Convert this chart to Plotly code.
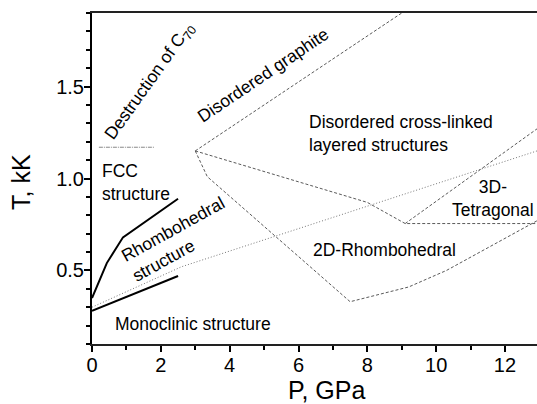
import plotly.graph_objects as go

# ---- data (P in GPa, T in kK) ----
solid_upper_p = [0, 0.43, 0.9, 2.5]
solid_upper_t = [0.35, 0.54, 0.68, 0.89]
solid_lower_p = [0, 2.5]
solid_lower_t = [0.28, 0.47]
dotted_p = [0, 2.6, 12.93]
dotted_t = [0.30, 0.52, 1.15]
dashdot_p = [0.2, 1.8]
dashdot_t = [1.17, 1.17]
graphite_p = [3.0, 9.0]
graphite_t = [1.15, 1.9]
crosslinked_p = [3.0, 8.0, 9.1, 12.93]
crosslinked_t = [1.15, 0.87, 0.755, 0.755]
tetragonal_p = [9.1, 12.93]
tetragonal_t = [0.755, 1.27]
rhombo2d_p = [3.0, 3.35, 7.5, 9.2, 10.3, 12.93]
rhombo2d_t = [1.15, 1.01, 0.33, 0.41, 0.5, 0.77]

x_ticks = [0, 2, 4, 6, 8, 10, 12]
y_ticks = [0.5, 1.0, 1.5]

FONT = "Liberation Sans, Arial, sans-serif"
GRAY = "#5a5a5a"

fig = go.Figure()

def add(x, y, color, width, dash):
    fig.add_trace(go.Scatter(x=x, y=y, mode="lines",
                             line=dict(color=color, width=width, dash=dash),
                             showlegend=False, hoverinfo="skip", cliponaxis=True))

add(solid_upper_p, solid_upper_t, "black", 2, "solid")
add(solid_lower_p, solid_lower_t, "black", 2, "solid")
add(dotted_p, dotted_t, "#777777", 1, "1px,2px")
add(dashdot_p, dashdot_t, "#888888", 1, "4px,1px,1px,1px")
for px_, pt_ in [(graphite_p, graphite_t), (crosslinked_p, crosslinked_t),
                 (tetragonal_p, tetragonal_t), (rhombo2d_p, rhombo2d_t)]:
    add(px_, pt_, GRAY, 1, "3px,2px")

def label(text, x, y, angle=0, xanchor="center", align="center"):
    fig.add_annotation(x=x, y=y, text=text, showarrow=False, textangle=angle,
                       xanchor=xanchor, yanchor="middle", align=align,
                       font=dict(family=FONT, size=17.5, color="black"))

label("Destruction of C<sub>70</sub>", 1.68, 1.53, angle=-54.5)
label("Disordered graphite", 4.97, 1.565, angle=-34)
label("Disordered cross-linked<br>layered structures", 6.24, 1.243, xanchor="left", align="left")
label("FCC<br>structure", 0.23, 0.978, xanchor="left", align="left")
label("Rhombohedral<br>structure", 2.5, 0.67, angle=-29, align="left")
label("Monoclinic structure", 0.61, 0.209, xanchor="left", align="left")
label("2D-Rhombohedral", 6.35, 0.613, xanchor="left", align="left")
label("3D-<br>Tetragonal", 11.65, 0.893)

# axis titles
fig.add_annotation(x=-0.16, y=0.489, xref="paper", yref="paper", text="T, kK",
                   showarrow=False, textangle=-90, xanchor="center", yanchor="middle",
                   font=dict(family=FONT, size=25, color="black"))
fig.add_annotation(x=0.526, y=-0.139, xref="paper", yref="paper", text="P, GPa",
                   showarrow=False, xanchor="center", yanchor="middle",
                   font=dict(family=FONT, size=25, color="black"))

fig.update_xaxes(range=[0, 12.93], tickvals=x_ticks, ticktext=[str(v) for v in x_ticks],
                 ticks="outside", ticklen=6, tickwidth=1.5, tickcolor="black",
                 minor=dict(dtick=1, tick0=0, ticks="outside", ticklen=4, tickwidth=1.5, tickcolor="black"),
                 showline=True, linecolor="#222222", linewidth=2, mirror=True,
                 showgrid=False, zeroline=False, automargin=False, ticklabelstandoff=-4,
                 tickfont=dict(family=FONT, size=20, color="black"))
fig.update_yaxes(range=[0.1, 1.9], tickvals=y_ticks, ticktext=["0.5", "1.0", "1.5"],
                 ticks="outside", ticklen=6, tickwidth=1.5, tickcolor="black",
                 minor=dict(dtick=0.1, tick0=0, ticks="outside", ticklen=4, tickwidth=1.5, tickcolor="black"),
                 showline=True, linecolor="black", linewidth=2,
                 showgrid=False, zeroline=False, automargin=False, ticklabelstandoff=-4,
                 tickfont=dict(family=FONT, size=20, color="black"))

fig.update_layout(width=537, height=404, margin=dict(l=92, r=0, t=13, b=60, autoexpand=False),
                  plot_bgcolor="white", paper_bgcolor="white")

fig.write_html("out.html", config={"displayModeBar": False},
               post_script="document.body.style.margin='0';")
